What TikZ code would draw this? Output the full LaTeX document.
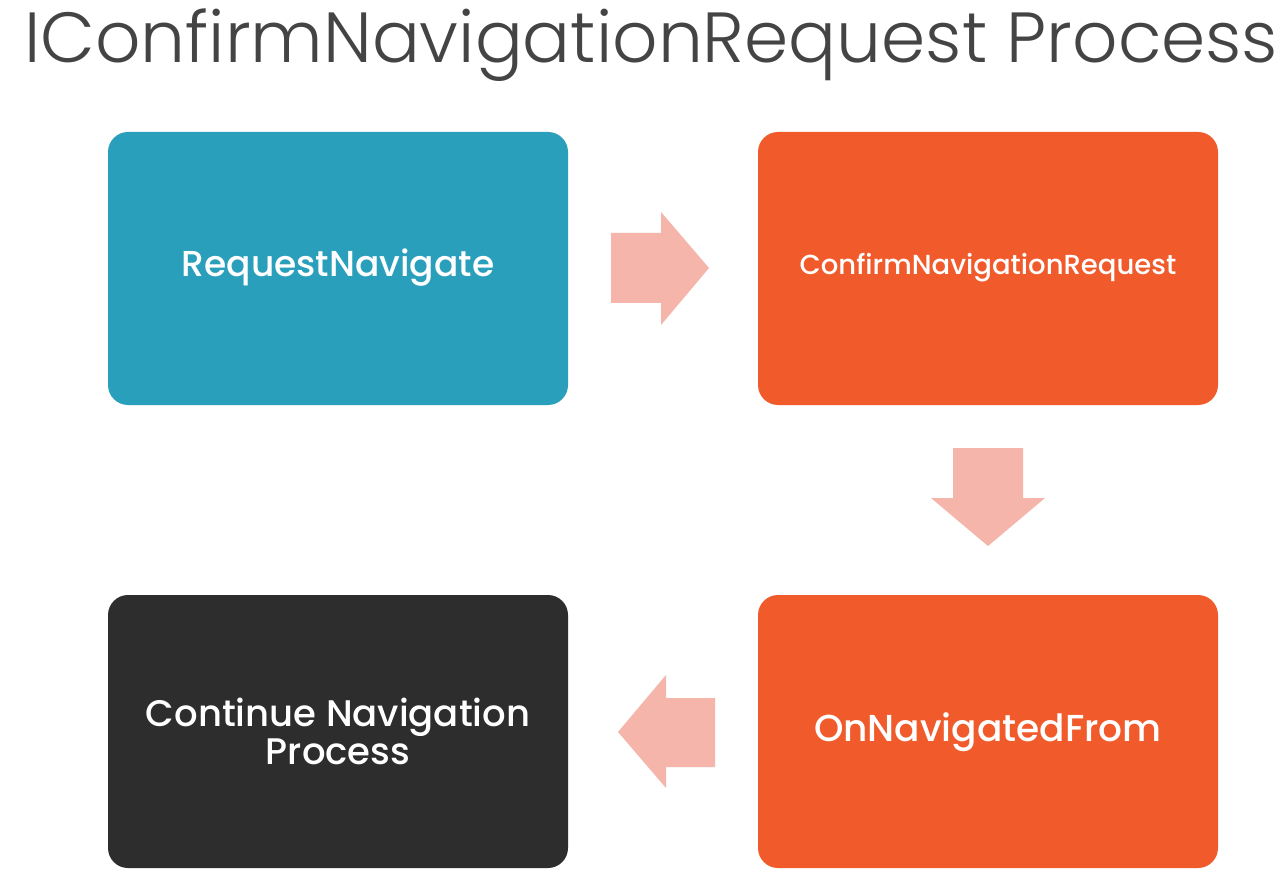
\documentclass[tikz,border=0pt]{standalone}
\usepackage{fontspec}
\setmainfont{Poppins Medium}
\newfontfamily\titlefont{Poppins Light}
\definecolor{teal}{HTML}{2A9FBC}
\definecolor{orng}{HTML}{F15A2B}
\definecolor{dark}{HTML}{2D2D2D}
\definecolor{pink}{HTML}{F5B5AB}
\definecolor{ttl}{HTML}{444444}
\begin{document}
\begin{tikzpicture}[x=1pt,y=-1pt,
  boxfill/.style={rounded corners=20pt},
  lbl/.style={text=white, align=center},
  arr/.style={fill=pink, draw=none}]
\useasboundingbox (0,0) rectangle (1280,877);
\fill[white] (0,0) rectangle (1280,877);
\node[anchor=base west, text=ttl, inner sep=0pt, font=\titlefont\fontsize{71}{80}\selectfont] (title) at (24,63) {IConfirmNavigationRequest Process};
\fill[teal, boxfill] (108,132) rectangle (568,405);
\node[lbl, font=\fontsize{36}{40}\selectfont] (rn) at (338,268) {RequestNavigate};
\fill[orng, boxfill] (758,132) rectangle (1218,405);
\node[lbl, font=\fontsize{27.5}{32}\selectfont] (cnr) at (988,268) {ConfirmNavigationRequest};
\fill[orng, boxfill] (758,595) rectangle (1218,868);
\node[lbl, font=\fontsize{37.5}{42}\selectfont] (onf) at (988,732) {OnNavigatedFrom};
\fill[dark, boxfill] (108,595) rectangle (568,868);
\node[lbl, font=\fontsize{37}{38}\selectfont] (cnp) at (338,731) {Continue Navigation\\Process};
\fill[arr] (611,233) -- (661,233) -- (661,212) -- (709,268) -- (661,325) -- (661,303) -- (611,303) -- cycle;
\fill[arr] (953,448) -- (1023,448) -- (1023,498) -- (1045,498) -- (988,546) -- (931,498) -- (953,498) -- cycle;
\fill[arr] (715,698) -- (666,698) -- (666,675) -- (618,732) -- (666,788) -- (666,767) -- (715,767) -- cycle;
\end{tikzpicture}
\end{document}
